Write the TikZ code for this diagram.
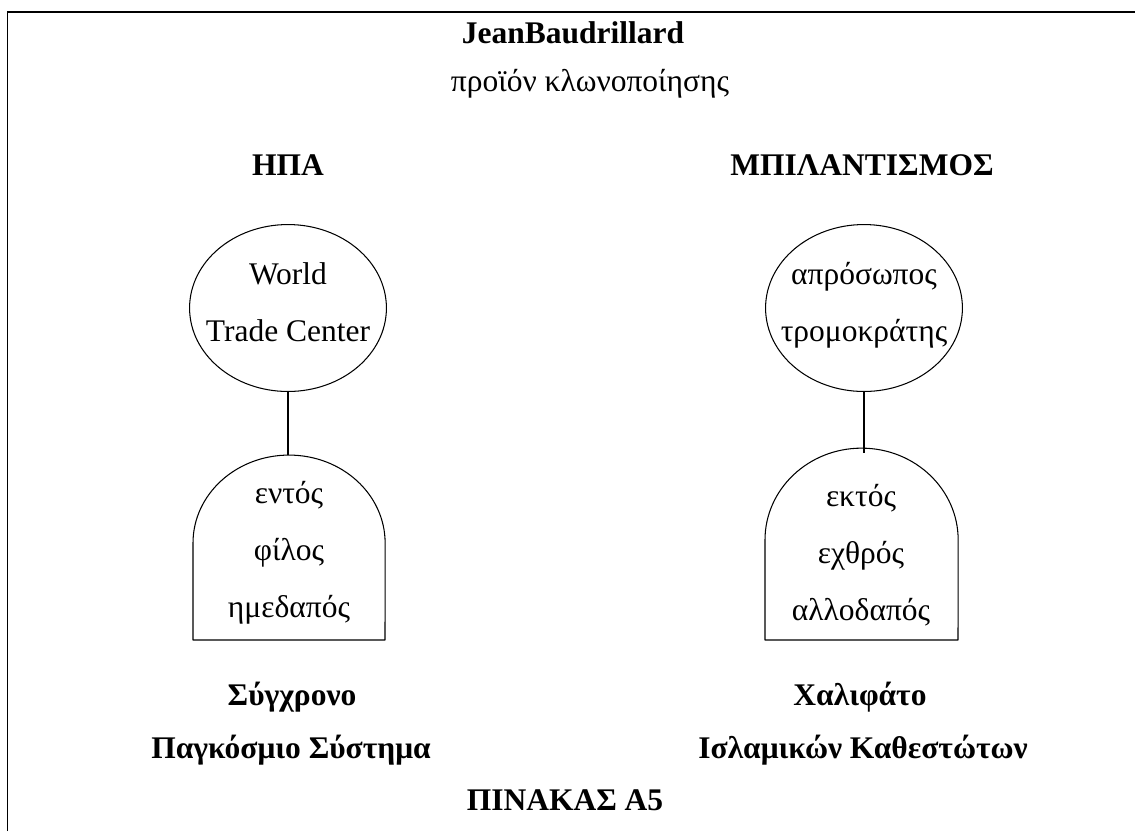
\documentclass[tikz,border=0pt]{standalone}
\usepackage{fontspec}
\setmainfont{Liberation Serif}
\usetikzlibrary{shapes.geometric}
\tikzset{
  heading/.style={font=\fontsize{12}{14}\selectfont\bfseries},
  plain/.style={font=\fontsize{12}{14}\selectfont},
  body/.style={align=center, font=\fontsize{12}{21.7}\selectfont},
  bubble/.style={draw, ellipse, line width=0.4pt, minimum width=75pt, minimum height=63.6pt, inner sep=0pt},
  archbox/.style={draw, line width=0.4pt, line join=round},
  frame/.style={line width=0.65pt, line join=miter},
}
\begin{document}
\begin{tikzpicture}[x=0.381pt,y=-0.381pt]
\useasboundingbox (0,0) rectangle (1135,831);
% open frame
\draw[frame] (7.5,831) -- (7.5,12) -- (1135,12);

% titles
\node[heading] (author) at (573,33) {JeanBaudrillard};
\node[plain] (product) at (590,84) {προϊόν κλωνοποίησης};
\node[heading] (usa) at (288,165) {ΗΠΑ};
\node[heading] (bilad) at (862,165) {ΜΠΙΛΑΝΤΙΣΜΟΣ};

% left side
\node[bubble] (wtc) at (288,308) {};
\node[body] (wtctext) at (288,302) {World\\Trade Center};
\coordinate (archL) at (288,455);
\draw[archbox] (193,640) -- (193,543) arc[start angle=180, end angle=0, x radius=36.6pt, y radius=33.5pt] -- (385,640) -- cycle;
\node[body] (inside) at (289,553) {εντός\\φίλος\\ημεδαπός};
\draw (wtc.south) -- (archL);

% right side
\node[bubble] (terror) at (864,308) {};
\node[body] (terrortext) at (864,305) {απρόσωπος\\τρομοκράτης};
\coordinate (archR) at (864,453);
\draw[archbox] (765,640) -- (765,540) arc[start angle=180, end angle=0, x radius=36.8pt, y radius=35pt] -- (958,640) -- cycle;
\node[body] (outside) at (861,555) {εκτός\\εχθρός\\αλλοδαπός};
\draw (terror.south) -- (archR);

% bottom labels
\node[heading] (modern) at (292,697) {Σύγχρονο};
\node[heading] (global) at (291,750) {Παγκόσμιο Σύστημα};
\node[heading] (caliph) at (860,697) {Χαλιφάτο};
\node[heading] (islam) at (863,750) {Ισλαμικών Καθεστώτων};
\node[heading] (table) at (565,800) {ΠΙΝΑΚΑΣ Α5};
\end{tikzpicture}
\end{document}
